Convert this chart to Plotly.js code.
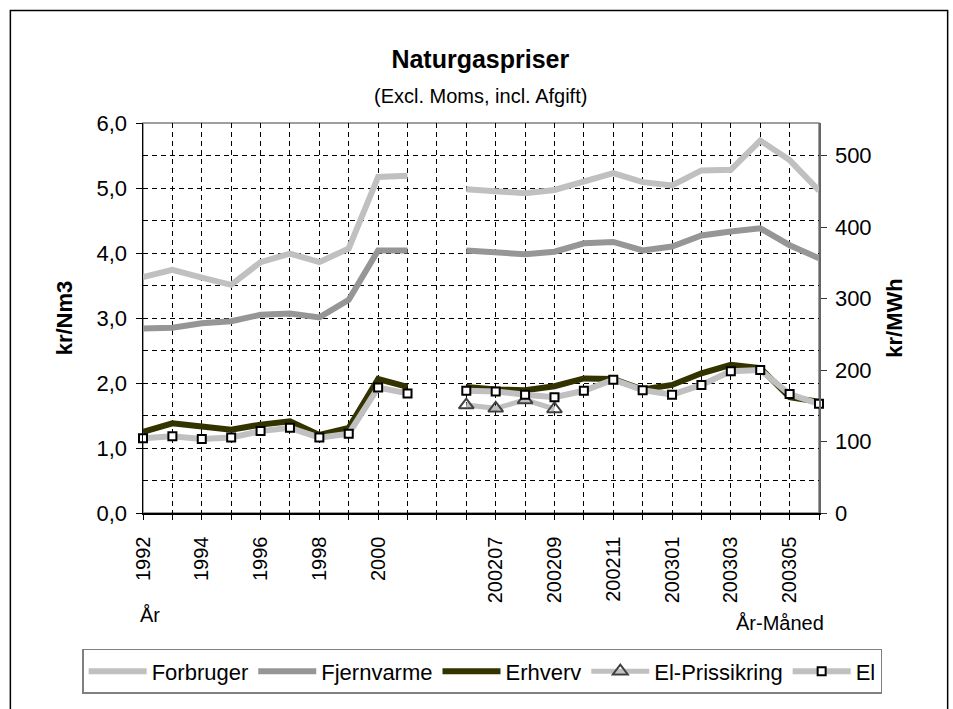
<!DOCTYPE html>
<html>
<head>
<meta charset="utf-8">
<script src="https://cdn.plot.ly/plotly-3.0.1.min.js"></script>
<style>
  body { margin: 0; background: #fff; }
  #plotArea { width: 953px; height: 709px; }
</style>
</head>
<body>
<div id="plotArea"></div>
<script>
// categories: years, one empty slot, then year-month
var categories = ["1992", "1993", "1994", "1995", "1996", "1997", "1998", "1999", "2000", "2001", " ",
  "200206", "200207", "200208", "200209", "200210", "200211", "200212",
  "200301", "200302", "200303", "200304", "200305", "200306"];

// kr/Nm3
var forbruger = [3.63, 3.74, 3.62, 3.51, 3.86, 3.99, 3.86, 4.07, 5.17, 5.19, null,
  4.98, 4.94, 4.92, 4.97, 5.09, 5.23, 5.09, 5.04, 5.27, 5.28, 5.73, 5.43, 4.96];
var fjernvarme = [2.84, 2.85, 2.92, 2.95, 3.05, 3.07, 3.01, 3.28, 4.04, 4.04, null,
  4.04, 4.02, 3.98, 4.02, 4.15, 4.17, 4.04, 4.10, 4.27, 4.33, 4.38, 4.12, 3.92];
var erhverv = [1.25, 1.38, 1.33, 1.28, 1.36, 1.41, 1.20, 1.31, 2.06, 1.94, null,
  1.94, 1.90, 1.89, 1.95, 2.07, 2.06, 1.90, 1.97, 2.15, 2.28, 2.23, 1.78, 1.71];
var elPrissikring = [null, null, null, null, null, null, null, null, null, null, null,
  1.66, 1.61, 1.74, 1.60, null, null, null, null, null, null, null, null, null];
var el = [1.15, 1.18, 1.14, 1.16, 1.26, 1.31, 1.16, 1.22, 1.93, 1.84, null,
  1.88, 1.87, 1.82, 1.78, 1.88, 2.05, 1.89, 1.82, 1.97, 2.18, 2.20, 1.83, 1.68];

// every other category gets a label
var tickText = categories.map(function (c, i) { return i % 2 === 0 ? c : ""; });

var font = "Liberation Sans, Arial, sans-serif";

var data = [
  {x: categories, y: forbruger, name: "Forbruger", type: "scatter", mode: "lines",
   line: {color: "#c0c0c0", width: 6}},
  {x: categories, y: fjernvarme, name: "Fjernvarme", type: "scatter", mode: "lines",
   line: {color: "#969696", width: 6}},
  {x: categories, y: erhverv, name: "Erhverv", type: "scatter", mode: "lines",
   line: {color: "#333300", width: 6}},
  {x: categories, y: elPrissikring, name: "El-Prissikring", type: "scatter", mode: "lines+markers",
   line: {color: "#c0c0c0", width: 5}, cliponaxis: false,
   marker: {symbol: "triangle-up-open", size: 13, color: "#404040", line: {width: 2, color: "#404040"}}},
  {x: categories, y: el, name: "El", type: "scatter", mode: "lines+markers",
   line: {color: "#c0c0c0", width: 6}, cliponaxis: false,
   marker: {symbol: "square", size: 8, color: "#ffffff", line: {width: 2, color: "#000000"}}},
  // empty trace so the kr/MWh axis is drawn
  {x: [], y: [], yaxis: "y2", type: "scatter", mode: "lines", showlegend: false, hoverinfo: "skip"}
];

var layout = {
  width: 953,
  height: 709,
  paper_bgcolor: "#ffffff",
  plot_bgcolor: "#ffffff",
  separators: ",.",
  font: {family: font, color: "#000000"},
  margin: {l: 143, r: 134, t: 123, b: 196},
  showlegend: true,
  title: {
    text: "<b>Naturgaspriser</b>",
    font: {size: 25, family: font},
    x: 0.504, xanchor: "center",
    y: 0.917, yanchor: "middle"
  },
  xaxis: {
    type: "category",
    categoryarray: categories,
    range: [0, 23],
    tickvals: categories,
    ticktext: tickText,
    tickangle: -90,
    tickfont: {size: 20},
    ticks: "outside", ticklen: 5, tickcolor: "#000",
    ticklabelstandoff: 9,
    showline: true, linecolor: "#000", linewidth: 1.5,
    showgrid: true, gridcolor: "#000", gridwidth: 1, griddash: "5px,4px",
    zeroline: false, automargin: false
  },
  yaxis: {
    range: [0, 6],
    dtick: 1,
    tickformat: ".1f",
    tickfont: {size: 22},
    ticks: "outside", ticklen: 6, tickcolor: "#000",
    ticklabelstandoff: 4,
    showline: true, linecolor: "#000", linewidth: 1.5,
    showgrid: true, gridcolor: "#000", gridwidth: 1, griddash: "5px,4px",
    minor: {dtick: 0.5, showgrid: true, gridcolor: "#000", gridwidth: 1, griddash: "5px,4px"},
    zeroline: false, automargin: false,
    title: {text: "<b>kr/Nm3</b>", font: {size: 22}, standoff: 18}
  },
  yaxis2: {
    overlaying: "y",
    side: "right",
    range: [0, 545.45],
    dtick: 100,
    tickfont: {size: 22},
    ticks: "outside", ticklen: 6, tickcolor: "#333",
    ticklabelstandoff: 4,
    showline: true, linecolor: "#666", linewidth: 1.5,
    showgrid: false, zeroline: false, automargin: false,
    title: {text: "<b>kr/MWh</b>", font: {size: 22}, standoff: 16}
  },
  legend: {
    orientation: "h",
    x: -0.09, xanchor: "left",
    y: -0.406, yanchor: "middle",
    bordercolor: "#808080", borderwidth: 1.5,
    font: {size: 22, family: font},
    itemwidth: 58
  },
  shapes: [
    // plot frame (top/right grey)
    {type: "rect", xref: "paper", yref: "paper", x0: 0, x1: 1, y0: 0, y1: 1,
     line: {color: "#808080", width: 1.5}, layer: "below"},
    // outer chart frame
    {type: "rect", xref: "paper", yref: "paper", x0: -0.1962, x1: 1.1903, y0: -0.56, y1: 1.2885,
     line: {color: "#000", width: 1.5}}
  ],
  annotations: [
    {text: "(Excl. Moms, incl. Afgift)", xref: "paper", yref: "paper", x: (480 - 143) / 676, y: (513 - 95) / 390.6,
     showarrow: false, font: {size: 20}, xanchor: "center", yanchor: "middle"},
    {text: "År", xref: "paper", yref: "paper", x: (150 - 143) / 676, y: (513 - 615) / 390.6,
     showarrow: false, font: {size: 20}, xanchor: "center", yanchor: "middle"},
    {text: "År-Måned", xref: "paper", yref: "paper", x: (780 - 143) / 676, y: (513 - 623) / 390.6,
     showarrow: false, font: {size: 20}, xanchor: "center", yanchor: "middle"}
  ]
};

Plotly.newPlot("plotArea", data, layout, {displayModeBar: false, staticPlot: true});
</script>
</body>
</html>
